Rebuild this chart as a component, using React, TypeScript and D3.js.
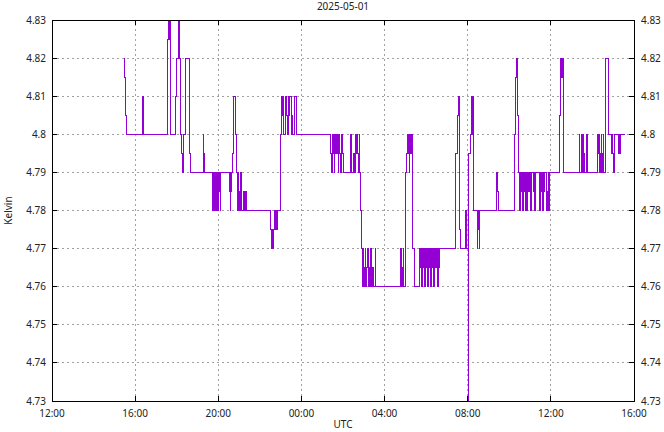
import React from "react";
import * as d3 from "d3";

const title = "2025-05-01";
const xLabel = "UTC";
const yLabel = "Kelvin";
const startTime = "2025-04-30T12:00:00Z";
const endTime = "2025-05-01T16:00:00Z";
const yTicks = [4.73, 4.74, 4.75, 4.76, 4.77, 4.78, 4.79, 4.8, 4.81, 4.82, 4.83];

// hours since 2025-04-30 12:00 UTC
const hours = [
  3.48, 3.51, 3.56, 3.59, 4.34, 4.38, 4.40, 5.55, 5.59, 5.61, 5.63, 5.64, 5.66, 5.68, 5.71,
  5.96, 6.01, 6.07, 6.09, 6.11, 6.13, 6.16, 6.20, 6.25, 6.30, 6.33, 6.40, 6.41, 6.60, 6.65,
  7.28, 7.31, 7.34, 7.70, 7.72, 7.74, 7.77, 7.79, 7.82, 7.84, 7.86, 7.89, 7.92, 7.97, 8.00,
  8.03, 8.07, 8.10, 8.13, 8.53, 8.55, 8.58, 8.60, 8.62, 8.66, 8.71, 8.85, 8.88, 8.91, 8.94,
  8.96, 8.99, 9.02, 9.04, 9.08, 9.11, 9.14, 9.19, 9.22, 9.25, 9.28, 9.31, 9.34,
  10.53, 10.57, 10.60, 10.63, 10.66, 10.69, 10.74, 10.77, 10.82, 10.86,
  10.97, 11.03, 11.07, 11.10, 11.13, 11.16, 11.21, 11.23, 11.26, 11.29, 11.32, 11.37, 11.41,
  11.45, 11.50, 11.56, 11.59, 11.67, 11.74,
  13.42, 13.45, 13.48, 13.51, 13.54, 13.58, 13.61, 13.64, 13.69, 13.72, 13.76, 13.80, 13.85,
  13.89, 13.94, 13.96, 14.00, 14.36, 14.41, 14.52, 14.57, 14.62, 14.65, 14.68, 14.72, 14.75,
  14.78, 14.81, 14.86, 14.90, 14.94,
  14.97, 15.01, 15.03, 15.06, 15.08, 15.10, 15.13, 15.15, 15.19, 15.22, 15.25, 15.28, 15.34,
  15.38, 15.44, 15.47, 15.54, 15.58,
  16.77, 16.80, 16.82, 16.85, 16.90, 16.93, 16.99, 17.01, 17.06, 17.09, 17.12, 17.16, 17.19,
  17.22, 17.25, 17.28, 17.35, 17.45,
  17.70, 17.73, 17.76, 17.80, 17.83, 17.86, 17.89, 17.94, 17.97, 18.02, 18.05, 18.08, 18.12,
  18.17, 18.20, 18.23, 18.26, 18.31, 18.34, 18.37, 18.42, 18.47, 18.50, 18.55, 18.60, 18.63, 18.66,
  19.40, 19.43, 19.49, 19.54, 19.56, 19.57, 19.59, 19.61, 19.66, 19.90, 19.93, 19.96,
  20.04, 20.05, 20.14, 20.17, 20.19, 20.20, 20.22, 20.24, 20.26, 20.45, 20.49, 20.52, 20.55, 20.59,
  21.39, 21.42, 21.47, 22.26, 22.28, 22.32, 22.35, 22.38, 22.40, 22.44,
  22.47, 22.50, 22.51, 22.54, 22.57, 22.61, 22.62, 22.67, 22.70, 22.74, 22.77, 22.80, 22.85,
  22.89, 22.94, 22.98, 23.03, 23.05, 23.15, 23.19, 23.23, 23.27, 23.43, 23.46, 23.49, 23.54,
  23.57, 23.60, 23.63, 23.68, 23.71, 23.79, 23.82, 23.86, 23.89, 23.92, 23.95,
  24.40, 24.43, 24.47, 24.50, 24.51, 24.54, 24.56, 24.59, 24.63,
  25.36, 25.40, 25.46, 25.49, 25.52, 25.55, 25.59, 25.62, 25.70, 25.73, 25.78,
  26.23, 26.26, 26.31, 26.34, 26.39, 26.42, 26.45, 26.49, 26.52, 26.55, 26.61, 26.65, 26.76,
  26.79, 26.92, 26.95, 26.96, 26.99, 27.08, 27.24, 27.27, 27.32, 27.35, 27.56,
];

const kelvin = [
  4.82, 4.815, 4.805, 4.8, 4.81, 4.805, 4.8, 4.825, 4.83, 4.825, 4.83, 4.825, 4.83, 4.815, 4.8,
  4.81, 4.82, 4.83, 4.825, 4.83, 4.82, 4.81, 4.8, 4.795, 4.79, 4.8, 4.81, 4.82, 4.795, 4.79,
  4.8, 4.795, 4.79, 4.78, 4.79, 4.785, 4.79, 4.78, 4.785, 4.79, 4.785, 4.78, 4.79, 4.78, 4.79,
  4.785, 4.79, 4.78, 4.79, 4.785, 4.79, 4.78, 4.785, 4.79, 4.795, 4.81, 4.8, 4.79, 4.78, 4.79,
  4.785, 4.78, 4.785, 4.78, 4.79, 4.785, 4.78, 4.785, 4.78, 4.785, 4.78, 4.785, 4.78,
  4.775, 4.77, 4.775, 4.77, 4.775, 4.78, 4.775, 4.78, 4.775, 4.78,
  4.8, 4.81, 4.805, 4.81, 4.805, 4.8, 4.81, 4.805, 4.81, 4.805, 4.8, 4.81, 4.805,
  4.81, 4.8, 4.805, 4.8, 4.81, 4.8,
  4.795, 4.79, 4.8, 4.795, 4.8, 4.79, 4.795, 4.8, 4.795, 4.8, 4.79, 4.8, 4.795,
  4.79, 4.8, 4.795, 4.79, 4.8, 4.79, 4.795, 4.79, 4.8, 4.795, 4.8, 4.795, 4.79,
  4.8, 4.79, 4.78, 4.77, 4.76,
  4.77, 4.76, 4.765, 4.76, 4.77, 4.765, 4.76, 4.765, 4.77, 4.76, 4.765, 4.76, 4.77,
  4.76, 4.765, 4.76, 4.77, 4.76,
  4.77, 4.76, 4.765, 4.76, 4.77, 4.76, 4.78, 4.79, 4.795, 4.8, 4.795, 4.8, 4.79,
  4.8, 4.795, 4.8, 4.77, 4.76,
  4.77, 4.765, 4.77, 4.76, 4.77, 4.765, 4.77, 4.76, 4.77, 4.765, 4.77, 4.76, 4.77,
  4.765, 4.77, 4.76, 4.77, 4.765, 4.77, 4.76, 4.77, 4.765, 4.77, 4.76, 4.77, 4.765, 4.77,
  4.78, 4.795, 4.805, 4.81, 4.805, 4.81, 4.805, 4.775, 4.77, 4.78, 4.775, 4.77,
  4.73, 4.795, 4.8, 4.81, 4.8, 4.81, 4.8, 4.81, 4.78, 4.77, 4.775, 4.78, 4.77, 4.78,
  4.79, 4.785, 4.78, 4.8, 4.81, 4.815, 4.82, 4.815, 4.805, 4.79,
  4.785, 4.79, 4.78, 4.79, 4.785, 4.79, 4.78, 4.79, 4.785, 4.79, 4.78, 4.79, 4.78,
  4.79, 4.785, 4.79, 4.78, 4.79, 4.785, 4.79, 4.78, 4.79, 4.785, 4.78, 4.79, 4.785,
  4.79, 4.78, 4.79, 4.785, 4.79, 4.78, 4.785, 4.78, 4.79, 4.78, 4.79,
  4.795, 4.805, 4.82, 4.815, 4.82, 4.815, 4.82, 4.815, 4.79,
  4.8, 4.79, 4.795, 4.8, 4.79, 4.8, 4.795, 4.79, 4.795, 4.8, 4.79,
  4.8, 4.795, 4.8, 4.79, 4.795, 4.8, 4.79, 4.795, 4.8, 4.79, 4.81, 4.82, 4.815,
  4.8, 4.795, 4.8, 4.795, 4.79, 4.8, 4.795, 4.8, 4.795, 4.8, 4.8,
];

const W = 664;
const H = 432;
const M = { left: 52, right: 30, top: 20, bottom: 31 };
const FONT = "'Noto Sans', 'DejaVu Sans', sans-serif";
const LINE_COLOR = "#9400d3";

export default function App() {
  const t0 = new Date(startTime);
  const t1 = new Date(endTime);
  const x = d3.scaleUtc().domain([t0, t1]).range([M.left, W - M.right]);
  const y = d3.scaleLinear().domain([4.73, 4.83]).range([H - M.bottom, M.top]);
  const xTicks = x.ticks(d3.utcHour.every(4));
  const fmt = d3.utcFormat("%H:%M");
  const data = hours.map((h, i) => ({ t: new Date(t0.getTime() + h * 3600e3), v: kelvin[i] }));
  const line = d3
    .line<{ t: Date; v: number }>()
    .x((d) => x(d.t))
    .y((d) => y(d.v))
    .curve(d3.curveStepAfter);
  const x0 = M.left;
  const x1 = W - M.right;
  const y0 = H - M.bottom;
  const y1 = M.top;
  const fmtY = (v: number) => String(+v.toFixed(2));

  return (
    <svg
      width={W}
      height={H}
      style={{ position: "absolute", left: 0, top: 0, background: "#fff" }}
      fontFamily={FONT}
    >
      <defs>
        <clipPath id="plotclip">
          <rect x={x0} y={y1} width={x1 - x0} height={y0 - y1} />
        </clipPath>
      </defs>
      <rect x={0} y={0} width={W} height={H} fill="#fff" />
      {/* grid */}
      {yTicks.slice(1, -1).map((v) => (
        <line key={"gy" + v} x1={x0} x2={x1} y1={y(v)} y2={y(v)} stroke="#a0a0a0" strokeDasharray="2,3" strokeWidth={1} shapeRendering="crispEdges" />
      ))}
      {xTicks.slice(1, -1).map((t) => (
        <line key={"gx" + t.getTime()} x1={x(t)} x2={x(t)} y1={y0} y2={y1} stroke="#a0a0a0" strokeDasharray="2,3" strokeWidth={1} shapeRendering="crispEdges" />
      ))}
      {/* data */}
      <path d={line(data) || ""} fill="none" stroke={LINE_COLOR} strokeWidth={1} clipPath="url(#plotclip)" shapeRendering="crispEdges" />
      {/* frame */}
      <rect x={x0} y={y1} width={x1 - x0} height={y0 - y1} fill="none" stroke="#000" strokeWidth={1} shapeRendering="crispEdges" />
      {/* ticks */}
      {yTicks.map((v) => (
        <g key={"ty" + v}>
          <line x1={x0} x2={x0 + 5} y1={y(v)} y2={y(v)} stroke="#000" shapeRendering="crispEdges" />
          <line x1={x1} x2={x1 - 5} y1={y(v)} y2={y(v)} stroke="#000" shapeRendering="crispEdges" />
          <text x={x0 - 6} y={y(v)} dy="0.35em" textAnchor="end" fontSize={10} fill="#222">
            {fmtY(v)}
          </text>
          <text x={x1 + 7} y={y(v)} dy="0.35em" textAnchor="start" fontSize={10} fill="#222">
            {fmtY(v)}
          </text>
        </g>
      ))}
      {xTicks.map((t) => (
        <g key={"tx" + t.getTime()}>
          <line x1={x(t)} x2={x(t)} y1={y0} y2={y0 - 5} stroke="#000" shapeRendering="crispEdges" />
          <line x1={x(t)} x2={x(t)} y1={y1} y2={y1 + 5} stroke="#000" shapeRendering="crispEdges" />
          <text x={x(t)} y={y0 + 12} dy="0.35em" textAnchor="middle" fontSize={10} fill="#222">
            {fmt(t)}
          </text>
        </g>
      ))}
      <text x={(x0 + x1) / 2} y={6} dy="0.35em" textAnchor="middle" fontSize={10} fill="#222">
        {title}
      </text>
      <text x={(x0 + x1) / 2} y={H - 4} dy="0" textAnchor="middle" fontSize={10} fill="#222">
        {xLabel}
      </text>
      <text
        transform={`translate(${8},${(y0 + y1) / 2}) rotate(-90)`}
        dy="0.35em"
        textAnchor="middle"
        fontSize={10}
        fill="#222"
      >
        {yLabel}
      </text>
    </svg>
  );
}
